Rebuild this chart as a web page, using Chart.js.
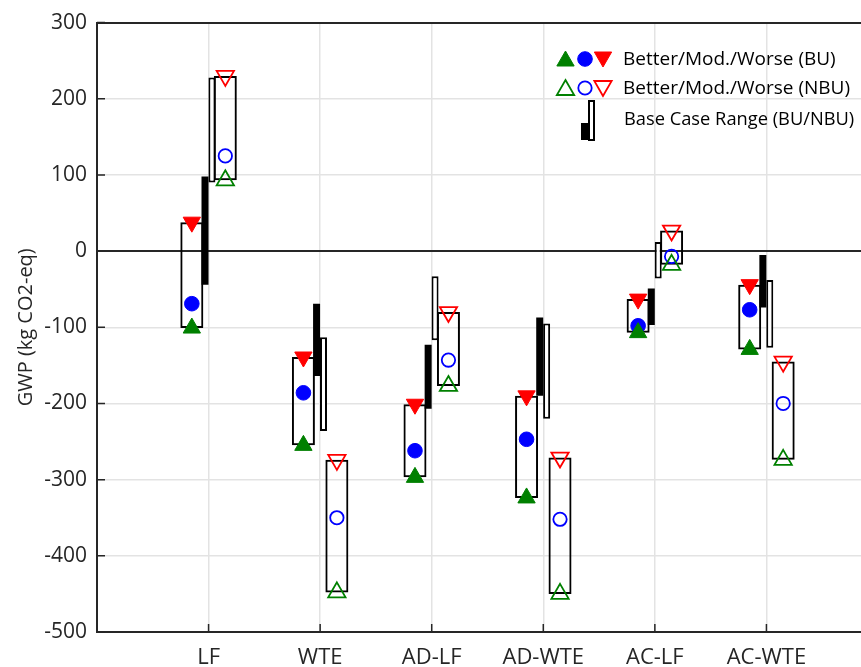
<!DOCTYPE html>
<html>
<head>
<meta charset="utf-8">
<title>GWP ranges</title>
<script src="https://cdn.jsdelivr.net/npm/chart.js@4.4.1/dist/chart.umd.min.js"></script>
<style>
  html, body { margin: 0; padding: 0; background: #fff; overflow: hidden; }
  #wrap { width: 861px; height: 667px; overflow: hidden; position: relative; }
  #inner { position: absolute; left: 0; top: 0; width: 891px; height: 667px; }
</style>
</head>
<body>
<div id="wrap"><div id="inner"><canvas id="chart" width="891" height="667"></canvas></div></div>
<script>
// data (kg CO2-eq)
const categories = ['LF', 'WTE', 'AD-LF', 'AD-WTE', 'AC-LF', 'AC-WTE'];
const yTicks = [-500, -400, -300, -200, -100, 0, 100, 200, 300];

// BU scenarios
const betterBU = [-101, -255, -297, -324, -107, -129];
const modBU    = [-69, -186, -262, -247, -98, -77];
const worseBU  = [38, -139, -201, -190, -63, -44];

// NBU scenarios
const betterNBU = [93, -448, -177, -450, -18, -274];
const modNBU    = [125, -350, -143, -352, -7, -200];
const worseNBU  = [230, -274, -80, -271, 27, -145];

// base case ranges
const baseLowBU   = [-44, -164, -207, -190, -97, -74];
const baseHighBU  = [98, -69, -123, -87, -49, -5];
const baseLowNBU  = [90, -236, -117, -220, -36, -127];
const baseHighNBU = [228, -113, -33, -95, 12, -38];

const legendLabels = ['Better/Mod./Worse (BU)', 'Better/Mod./Worse (NBU)', 'Base Case Range (BU/NBU)'];

const GREEN = '#008000';
const BLUE = '#0000ff';
const RED = '#ff0000';
const INK = '#262626';
const FONT = "'Open Sans', 'DejaVu Sans', sans-serif";

// offsets from category centre, in axis units
const OFF_BU = -0.15;
const OFF_NBU = 0.15;
const OFF_BASE_BU = -0.032;
const OFF_BASE_NBU = 0.03;

function markerSet(values, off, style, color, filled, rot) {
    return {
        type: 'scatter',
        data: values.map((v, i) => ({ x: i + 1 + off, y: v })),
        pointStyle: style,
        rotation: rot || 0,
        pointRadius: style === 'circle' ? (filled ? 7.3 : 6.7) : 10,
        pointHoverRadius: style === 'circle' ? 7 : 10,
        backgroundColor: filled ? color : 'rgba(0,0,0,0)',
        borderColor: color,
        borderWidth: filled ? 1 : 1.8,
        order: 0
    };
}

function rangeSet(low, high, off, width, fill, borderW) {
    return {
        type: 'bar',
        data: low.map((v, i) => ({ x: i + 1 + off, y: [v, high[i]] })),
        backgroundColor: fill,
        borderColor: '#000000',
        borderWidth: borderW,
        borderSkipped: false,
        inflateAmount: 0,
        barThickness: width,
        grouped: false,
        order: 1
    };
}

// small ticks pointing into the plot, like the original
const inwardTicks = {
    id: 'inwardTicks',
    beforeDatasetsDraw(chart) {
        const { ctx, chartArea, scales } = chart;
        ctx.save();
        ctx.strokeStyle = INK;
        ctx.lineWidth = 1.5;
        ctx.beginPath();
        yTicks.forEach(v => {
            const py = scales.y.getPixelForValue(v);
            ctx.moveTo(chartArea.left, py);
            ctx.lineTo(chartArea.left + 8, py);
        });
        categories.forEach((c, i) => {
            const px = scales.x.getPixelForValue(i + 1);
            ctx.moveTo(px, chartArea.bottom);
            ctx.lineTo(px, chartArea.bottom - 8);
        });
        ctx.stroke();
        ctx.restore();
    }
};

function drawMarker(ctx, style, x, y, radius, rot, color, filled) {
    ctx.save();
    ctx.fillStyle = filled ? color : 'rgba(0,0,0,0)';
    ctx.strokeStyle = color;
    ctx.lineWidth = filled ? 1 : 1.8;
    Chart.helpers.drawPoint(ctx, { pointStyle: style, rotation: rot, radius: radius, borderWidth: ctx.lineWidth }, x, y);
    ctx.restore();
}

const boxLegend = {
    id: 'boxLegend',
    afterDraw(chart) {
        const ctx = chart.ctx;
        const rows = [59, 88];
        const mx = [565.5, 585, 603];
        rows.forEach((ry, k) => {
            const filled = k === 0;
            drawMarker(ctx, 'triangle', mx[0], ry + 2, 10, 0, GREEN, filled);
            drawMarker(ctx, 'circle', mx[1], ry, filled ? 7.3 : 6.7, 0, BLUE, filled);
            drawMarker(ctx, 'triangle', mx[2], ry - 2, 10, 180, RED, filled);
        });
        // base case icon
        ctx.save();
        ctx.fillStyle = '#000';
        ctx.fillRect(581, 123, 7, 17);
        ctx.strokeStyle = '#000';
        ctx.lineWidth = 2;
        ctx.strokeRect(589, 101, 5, 39);
        ctx.restore();

        ctx.save();
        ctx.fillStyle = '#000';
        ctx.textAlign = 'left';
        ctx.textBaseline = 'middle';
        ctx.font = '19px ' + FONT;
        ctx.fillText(legendLabels[0], 623, 60);
        ctx.fillText(legendLabels[1], 623, 89);
        ctx.font = '18.3px ' + FONT;
        ctx.fillText(legendLabels[2], 624, 120);
        ctx.restore();
    }
};

const datasets = [
    markerSet(betterBU, OFF_BU, 'triangle', GREEN, true, 0),
    markerSet(modBU, OFF_BU, 'circle', BLUE, true, 0),
    markerSet(worseBU, OFF_BU, 'triangle', RED, true, 180),
    markerSet(betterNBU, OFF_NBU, 'triangle', GREEN, false, 0),
    markerSet(modNBU, OFF_NBU, 'circle', BLUE, false, 0),
    markerSet(worseNBU, OFF_NBU, 'triangle', RED, false, 180),
    rangeSet(baseLowNBU, baseHighNBU, OFF_BASE_NBU, 7, '#ffffff', 2),
    rangeSet(baseLowBU, baseHighBU, OFF_BASE_BU, 7, '#000000', 0),
    rangeSet(betterBU, worseBU, OFF_BU, 23, 'rgba(0,0,0,0)', 2),
    rangeSet(betterNBU, worseNBU, OFF_NBU, 23, 'rgba(0,0,0,0)', 2)
];

new Chart(document.getElementById('chart'), {
    type: 'bar',
    data: { datasets: datasets },
    options: {
        responsive: false,
        animation: false,
        events: [],
        layout: { autoPadding: false, padding: { top: 19, right: 0, bottom: 0, left: 0 } },
        plugins: {
            legend: { display: false },
            tooltip: { enabled: false }
        },
        scales: {
            x: {
                type: 'linear',
                min: 0,
                max: categories.length + 1,
                offset: false,
                afterFit: s => { s.height = 35; },
                afterBuildTicks: s => {
                    s.ticks = [0, 1, 2, 3, 4, 5, 6, 7].map(v => ({ value: v }));
                },
                ticks: {
                    autoSkip: false,
                    maxRotation: 0,
                    padding: 13,
                    color: INK,
                    font: { family: FONT, size: 22, lineHeight: 1.2 },
                    callback: v => categories[v - 1] || ''
                },
                grid: {
                    offset: false,
                    drawTicks: false,
                    color: '#e3e3e3',
                    lineWidth: 1.5
                },
                border: { color: INK, width: 2 }
            },
            y: {
                min: -500,
                max: 300,
                afterFit: s => { s.width = 97; },
                afterBuildTicks: s => {
                    s.ticks = yTicks.map(v => ({ value: v }));
                },
                ticks: {
                    padding: 10,
                    color: INK,
                    font: { family: FONT, size: 21 }
                },
                grid: {
                    drawTicks: false,
                    color: c => (c.tick && (c.tick.value === 0 || c.tick.value === 300)) ? INK : '#e3e3e3',
                    lineWidth: c => (c.tick && (c.tick.value === 0 || c.tick.value === 300)) ? 2 : 1.5
                },
                border: { color: INK, width: 2 },
                title: {
                    display: true,
                    text: 'GWP (kg CO2-eq)',
                    color: INK,
                    font: { family: FONT, size: 20, lineHeight: 1.2 },
                    padding: { top: 14, bottom: 0 }
                }
            }
        }
    },
    plugins: [inwardTicks, boxLegend]
});
</script>
</body>
</html>
